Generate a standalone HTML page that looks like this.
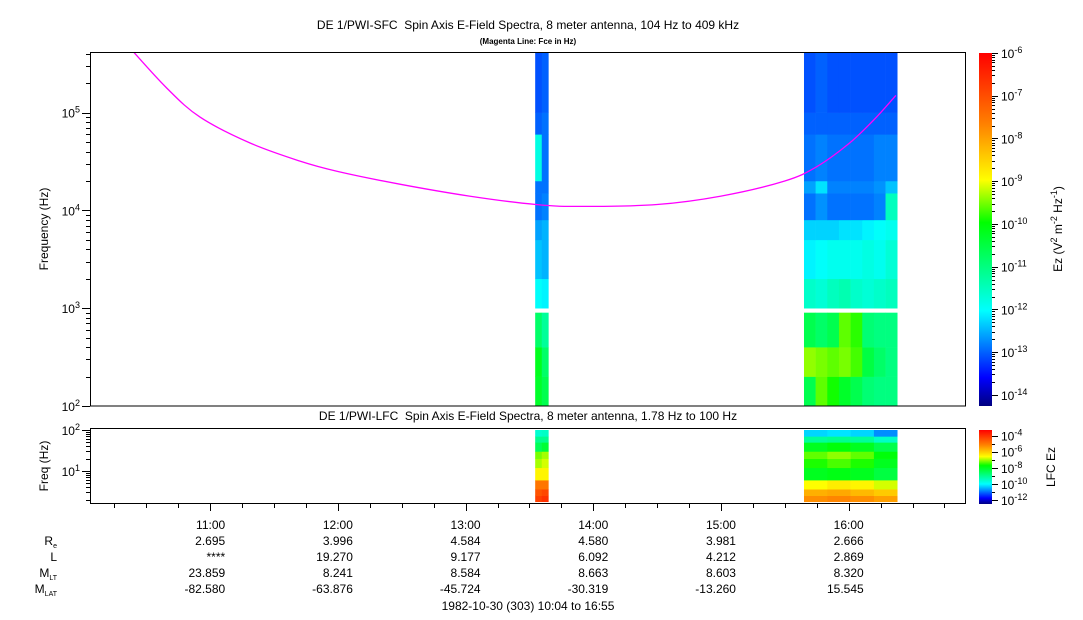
<!DOCTYPE html>
<html><head><meta charset="utf-8"><style>
body{margin:0;background:#fff;}
svg{display:block;font-family:"Liberation Sans",sans-serif;}
</style></head><body>
<svg id="c" width="1083" height="620" viewBox="0 0 1083 620">
<defs>
<linearGradient id="jet" x1="0" y1="1" x2="0" y2="0">
<stop offset="0" stop-color="#000080"/><stop offset="0.08" stop-color="#0000ff"/><stop offset="0.27" stop-color="#00ffff"/><stop offset="0.52" stop-color="#00ff00"/><stop offset="0.64" stop-color="#ffff00"/><stop offset="0.8" stop-color="#ff8000"/><stop offset="1" stop-color="#ff0000"/>
</linearGradient>
<clipPath id="cp"><rect x="91" y="53" width="874" height="353"/></clipPath>
</defs>
<text x="528" y="29" font-size="12" text-anchor="middle" xml:space="preserve">DE 1/PWI-SFC  Spin Axis E-Field Spectra, 8 meter antenna, 104 Hz to 409 kHz</text>
<text x="528" y="44" font-size="8" font-weight="bold" text-anchor="middle">(Magenta Line: Fce in Hz)</text>
<text x="528" y="420" font-size="12" text-anchor="middle" xml:space="preserve">DE 1/PWI-LFC  Spin Axis E-Field Spectra, 8 meter antenna, 1.78 Hz to 100 Hz</text>
<g id="marks"></g>
<rect x="979" y="53" width="13" height="353" fill="url(#jet)"/>
<rect x="979" y="430" width="13" height="74" fill="url(#jet)"/>
<g id="axes"></g>
<text transform="translate(48,229) rotate(-90)" font-size="12" text-anchor="middle">Frequency (Hz)</text>
<text transform="translate(48,466) rotate(-90)" font-size="12" text-anchor="middle">Freq (Hz)</text>
<text transform="translate(1062,229) rotate(-90)" font-size="12" text-anchor="middle">Ez (V<tspan dy="-5" font-size="9">2</tspan><tspan dy="5"> m</tspan><tspan dy="-5" font-size="9">-2</tspan><tspan dy="5"> Hz</tspan><tspan dy="-5" font-size="9">-1</tspan><tspan dy="5">)</tspan></text>
<text transform="translate(1055,467) rotate(-90)" font-size="12" text-anchor="middle">LFC Ez</text>
<g font-size="12" text-anchor="end">
<text x="57" y="545">R<tspan font-size="7" dy="3">e</tspan></text>
<text x="57" y="561">L</text>
<text x="57" y="577">M<tspan font-size="7" dy="3">LT</tspan></text>
<text x="57" y="593">M<tspan font-size="7" dy="3">LAT</tspan></text>
</g>
<g id="eph" font-size="12" text-anchor="end"></g>
<text x="528" y="610" font-size="12" text-anchor="middle">1982-10-30 (303) 10:04 to 16:55</text>
</svg>
<script>
// time (decimal hours) for Fce curve
const fceTimes=[10.39,10.66,10.92,11.31,11.7,12.0,12.49,13.03,13.55,13.9,14.5,15.0,15.5,15.75,16.0,16.2,16.37];
const fceVals=[430000,178000,90000,49000,32000,25000,18500,14000,11500,11000,11500,14000,20000,28000,48000,85000,150000];
const hourTicks=["11:00","12:00","13:00","14:00","15:00","16:00"];
const ReVals=["2.695","3.996","4.584","4.580","3.981","2.666"];
const LVals=["****","19.270","9.177","6.092","4.212","2.869"];
const MLTVals=["23.859","8.241","8.584","8.663","8.603","8.320"];
const MLATVals=["-82.580","-63.876","-45.724","-30.319","-13.260","15.545"];
// spectrogram intervals (start,end hours)
const stripeStart=[13.545,15.65];
const stripeEnd=[13.648,16.38];
// SFC band edges (Hz), log10 Ez per band for each column
const sfcEdges=[100,200,400,900,1000,2000,5000,8000,15000,20000,60000,100000,409000];
const sfc1=[[-10.3,-10.6],[-10.2,-10.8],[-10.8,-11.2],null,[-12.0,-12.1],[-12.4,-12.5],[-12.6,-12.5],[-12.9,-12.8],[-12.9,-12.9],[-11.8,-12.9],[-13.0,-12.9],[-13.1,-13.0]];
const sfc2=[[-10.6,-9.6,-9.9,-10.3,-10.6,-10.9,-11.0,-11.0],[-9.4,-9.5,-9.6,-9.5,-9.7,-10.5,-10.8,-11.0],[-10.6,-10.8,-10.6,-9.6,-9.8,-10.9,-11.0,-11.0],null,[-11.6,-11.7,-11.5,-11.4,-11.6,-11.7,-11.6,-11.5],[-12.1,-12.0,-11.9,-11.9,-11.9,-11.8,-11.9,-11.7],[-12.3,-12.3,-12.3,-12.2,-12.2,-12.1,-12.0,-11.9],[-12.9,-12.7,-12.9,-12.9,-12.9,-12.9,-12.8,-11.5],[-12.6,-12.2,-12.8,-12.8,-12.8,-12.8,-12.7,-12.4],[-12.9,-12.8,-12.9,-12.9,-12.9,-12.9,-12.8,-12.8],[-13.0,-13.0,-13.0,-13.0,-13.0,-13.0,-13.0,-13.0],[-13.1,-13.0,-13.1,-13.1,-13.1,-13.1,-13.1,-13.1]];
// LFC band edges (Hz)
const lfcEdges=[1.78,2.5,3.6,6,12,20,30,50,70,100];
const lfc1=[[-4.2,-4.0],[-4.5,-4.3],[-5.0,-5.0],[-6.5,-6.5],[-7.0,-6.8],[-7.2,-7.0],[-8.5,-8.2],[-9.0,-9.0],[-9.6,-9.5]];
const lfc2=[[-5.3,-5.2,-5.3,-5.5],[-5.7,-5.6,-5.8,-6.0],[-6.6,-6.4,-6.5,-6.8],[-8.0,-7.9,-8.0,-8.3],[-7.6,-7.4,-7.6,-8.0],[-7.3,-7.1,-7.3,-7.8],[-8.0,-7.8,-8.0,-8.4],[-9.1,-9.0,-9.1,-9.5],[-10.3,-10.2,-10.3,-10.8]];

const NS="http://www.w3.org/2000/svg";
const x0=91,t0=10+4/60,pxh=127.7;
const X=t=>x0+(t-t0)*pxh;
const Ytop=f=>406-(Math.log10(f)-2)*97.8;
const Ybot=f=>430+(2-Math.log10(f))*41;
const stops=[[0,[0,0,128]],[0.08,[0,0,255]],[0.27,[0,255,255]],[0.52,[0,255,0]],[0.64,[255,255,0]],[0.8,[255,128,0]],[1,[255,0,0]]];
function cmap(v,lo,hi){let p=Math.max(0,Math.min(1,(v-lo)/(hi-lo)));for(let i=1;i<stops.length;i++){if(p<=stops[i][0]){const a=stops[i-1],b=stops[i],k=(p-a[0])/(b[0]-a[0]);return 'rgb('+a[1].map((c,j)=>Math.round(c+(b[1][j]-c)*k)).join(',')+')';}}return 'rgb(255,0,0)';}
function mk(tag,attrs,parent){const e=document.createElementNS(NS,tag);for(const k in attrs)e.setAttribute(k,attrs[k]);parent.appendChild(e);return e;}
const marks=document.getElementById('marks');
function heat(grid,edges,s,Yf,lo,hi){
  grid.forEach((row,bi)=>{if(!row)return;const n=row.length,w=(stripeEnd[s]-stripeStart[s])/n;
    row.forEach((v,ci)=>{const xa=X(stripeStart[s]+ci*w),xb=X(stripeStart[s]+(ci+1)*w);const ya=Yf(edges[bi+1]),yb=Yf(edges[bi]);
      const r=mk('rect',{x:xa,y:ya,width:xb-xa+0.3,height:yb-ya+0.3,fill:cmap(v,lo,hi)},marks);
      
      });});
}
heat(sfc1,sfcEdges,0,Ytop,-14.26,-6);heat(sfc2,sfcEdges,1,Ytop,-14.26,-6);
heat(lfc1,lfcEdges,0,Ybot,-12.5,-3.3);heat(lfc2,lfcEdges,1,Ybot,-12.5,-3.3);
// Fce line, smoothed (Catmull-Rom through data points)
const P=fceTimes.map((t,i)=>[X(t),Ytop(fceVals[i])]);
let d='M'+P[0][0].toFixed(1)+','+P[0][1].toFixed(1);
for(let i=0;i<P.length-1;i++){const a=P[Math.max(0,i-1)],b=P[i],c=P[i+1],e=P[Math.min(P.length-1,i+2)];
  const c1=[b[0]+(c[0]-a[0])/6,b[1]+(c[1]-a[1])/6],c2=[c[0]-(e[0]-b[0])/6,c[1]-(e[1]-b[1])/6];
  d+='C'+c1.map(v=>v.toFixed(1)).join(',')+' '+c2.map(v=>v.toFixed(1)).join(',')+' '+c.map(v=>v.toFixed(1)).join(',');}
const fl=mk('path',{d:d,fill:'none',stroke:'#ff00ff','stroke-width':1.3,'clip-path':'url(#cp)'},marks);


const ax=document.getElementById('axes');
const p1=mk('rect',{x:90.5,y:52.5,width:875,height:353.5,fill:'none',stroke:'#000'},ax);


const p2=mk('rect',{x:90.5,y:428.5,width:875,height:75,fill:'none',stroke:'#000'},ax);


function tick(x1,y1,x2,y2){mk('line',{x1:x1,y1:y1,x2:x2,y2:y2,stroke:'#000','stroke-width':1},ax);}
function sup(x,y,b,e,name,anchor){const t=mk('text',{x:x,y:y,'font-size':12,'text-anchor':anchor||'end'},ax);t.textContent=b;const s=mk('tspan',{dy:-5,'font-size':9},t);s.textContent=e;}
for(let dcd=2;dcd<=5;dcd++){for(let m=1;m<10;m++){const f=m*Math.pow(10,dcd);if(f>409000)break;const y=Math.round(Ytop(f))+0.5;tick(m==1?82:86,y,90,y);}
  sup(80,Ytop(Math.pow(10,dcd))+5,'10',String(dcd),'y-tick-label');}
for(let dcd=0;dcd<=2;dcd++){for(let m=1;m<10;m++){const f=m*Math.pow(10,dcd);if(f<1.78||f>100)continue;const y=Math.round(Ybot(f))+0.5;tick(m==1?82:86,y,90,y);}
  if(dcd>0)sup(80,Ybot(Math.pow(10,dcd))+5,'10',String(dcd),'lfc-y-tick-label');}
for(let q=0;q<28;q++){const t=10.25+q*0.25;if(t>16.9)break;const x=Math.round(X(t))+0.5;tick(x,504,x,q%4==3?511:508);}
function cbTicks(y0,y1,lo,hi,step,name,minor){for(let e=Math.ceil(lo);e<=hi;e++){const y=y1-(e-lo)/(hi-lo)*(y1-y0);
  if(e%step==0){tick(992,Math.round(y)+0.5,998,Math.round(y)+0.5);sup(1001,y+5,'10',String(e),name,'start');}
  if(minor)for(let m=2;m<10;m++){const yy=y-Math.log10(m)*(y1-y0)/(hi-lo);if(yy>y0)tick(992,Math.round(yy)+0.5,995,Math.round(yy)+0.5);}}}
cbTicks(53,406,-14.26,-6,1,'colorbar-tick-label',true);
cbTicks(430,504,-12.5,-3.3,2,'lfc-colorbar-tick-label',false);
for(let e=-12;e<=-4;e++){const y=504-(e+12.5)/9.2*74;tick(992,Math.round(y)+0.5,995,Math.round(y)+0.5);}
const eph=document.getElementById('eph');
const rows=[hourTicks,ReVals,LVals,MLTVals,MLATVals],ys=[529,545,561,577,593],nm=['x-tick-label','re-value','l-value','mlt-value','mlat-value'];
rows.forEach((r,ri)=>r.forEach((v,i)=>{const t=mk('text',{x:X(11+i)+15,y:ys[ri]},eph);t.textContent=v;
  
  }));
</script>
</body></html>
